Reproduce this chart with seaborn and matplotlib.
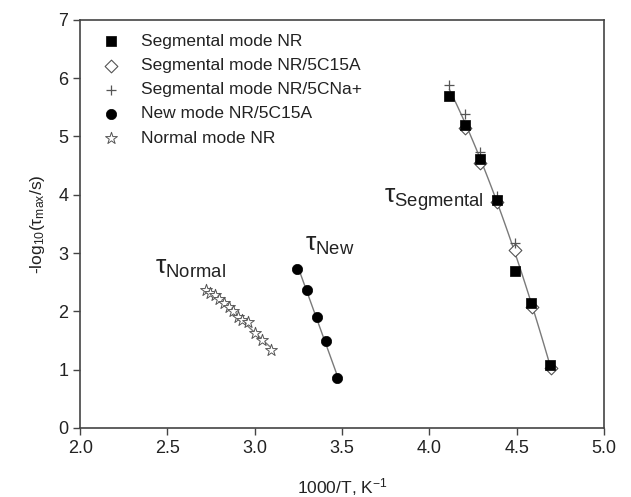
import numpy as np
import pandas as pd
import matplotlib
matplotlib.use("Agg")
import matplotlib.pyplot as plt
import seaborn as sns

# ---- data ----
seg_nr_x = [4.115, 4.205, 4.29, 4.385, 4.49, 4.585, 4.69]
seg_nr_y = [5.70, 5.20, 4.62, 3.91, 2.70, 2.15, 1.08]

seg_c15a_x = [4.205, 4.29, 4.385, 4.49, 4.59, 4.70]
seg_c15a_y = [5.15, 4.55, 3.88, 3.05, 2.08, 1.02]

seg_cna_x = [4.115, 4.205, 4.29, 4.385, 4.49]
seg_cna_y = [5.88, 5.38, 4.73, 3.98, 3.17]

new_x = [3.245, 3.30, 3.355, 3.41, 3.47]
new_y = [2.73, 2.36, 1.90, 1.49, 0.85]

normal_x = [2.72, 2.745, 2.77, 2.795, 2.825, 2.85, 2.875, 2.905, 2.93, 2.96, 3.00, 3.04, 3.095]
normal_y = [2.37, 2.32, 2.28, 2.22, 2.14, 2.08, 2.00, 1.90, 1.85, 1.82, 1.62, 1.50, 1.33]

labels = ["Segmental mode NR", "Segmental mode NR/5C15A", "Segmental mode NR/5CNa+",
          "New mode NR/5C15A", "Normal mode NR"]
x_ticks = [2.0, 2.5, 3.0, 3.5, 4.0, 4.5, 5.0]
y_ticks = [0, 1, 2, 3, 4, 5, 6, 7]

sns.set_theme(style="ticks")
plt.rcParams["font.family"] = ["Liberation Sans", "DejaVu Sans"]
plt.rcParams["mathtext.fontset"] = "custom"
plt.rcParams["mathtext.rm"] = "Liberation Sans"
plt.rcParams["mathtext.it"] = "Liberation Sans:italic"
plt.rcParams["mathtext.sf"] = "Liberation Sans"

fig = plt.figure(figsize=(6.31, 4.97), dpi=100)
ax = fig.add_axes([0.127, 0.139, 0.830, 0.821])

line_col = "#7a7a7a"

# fit lines derived from data
seg_all_x = np.array(seg_nr_x + seg_c15a_x + seg_cna_x)
seg_all_y = np.array(seg_nr_y + seg_c15a_y + seg_cna_y)
p = np.polyfit(seg_all_x, seg_all_y, 2)
xs = np.linspace(min(seg_nr_x), max(seg_c15a_x), 50)
sns.lineplot(x=xs, y=np.polyval(p, xs), ax=ax, color=line_col, lw=1.0, legend=False)

p = np.polyfit(new_x, new_y, 1)
xs = np.linspace(min(new_x), max(new_x), 10)
sns.lineplot(x=xs, y=np.polyval(p, xs), ax=ax, color=line_col, lw=1.0, legend=False)

p = np.polyfit(normal_x, normal_y, 1)
xs = np.linspace(min(normal_x), max(normal_x), 10)
sns.lineplot(x=xs, y=np.polyval(p, xs), ax=ax, color=line_col, lw=1.0, legend=False)

sns.scatterplot(x=seg_nr_x, y=seg_nr_y, ax=ax, marker="s", s=42, color="black",
                edgecolor="black", linewidth=0.5, label=labels[0], zorder=4)
sns.scatterplot(x=seg_c15a_x, y=seg_c15a_y, ax=ax, marker="D", s=42, facecolor="white",
                edgecolor="#555555", linewidth=0.8, label=labels[1], zorder=3)
sns.scatterplot(x=seg_cna_x, y=seg_cna_y, ax=ax, marker="+", s=45, color="#555555",
                linewidth=0.9, label=labels[2], zorder=3)
sns.scatterplot(x=new_x, y=new_y, ax=ax, marker="o", s=55, color="black",
                edgecolor="black", linewidth=0.5, label=labels[3], zorder=4)
sns.scatterplot(x=normal_x, y=normal_y, ax=ax, marker="*", s=80, facecolor="white",
                edgecolor="#555555", linewidth=0.7, label=labels[4], zorder=3)

ax.set_xlim(2.0, 5.0)
ax.set_ylim(0, 7)
ax.set_xticks(x_ticks)
ax.set_xticklabels([f"{t:.1f}" for t in x_ticks])
ax.set_yticks(y_ticks)

for sp in ax.spines.values():
    sp.set_color("#444444")
    sp.set_linewidth(1.2)
ax.tick_params(direction="out", length=5, width=1.0, color="#444444",
               labelsize=13, labelcolor="#222222", top=False, right=False)

ax.set_xlabel(r"1000/T, K$^{\mathregular{-1}}$", fontsize=12.5, color="#222222", labelpad=14)
ax.set_ylabel(r"-log$_{\mathregular{10}}$(τ$_{\mathregular{max}}$/s)", fontsize=12.5,
              color="#222222", labelpad=8)

leg = ax.legend(loc="upper left", frameon=False, fontsize=12.5, handletextpad=0.7,
                labelspacing=0.52, borderaxespad=0.4, bbox_to_anchor=(0.0, 1.0))
for t in leg.get_texts():
    t.set_color("#222222")

ax.text(3.74, 3.86, r"τ$_{\mathregular{Segmental}}$", fontsize=19, color="#222222")
ax.text(2.43, 2.65, r"τ$_{\mathregular{Normal}}$", fontsize=19, color="#222222")
ax.text(3.29, 3.03, r"τ$_{\mathregular{New}}$", fontsize=19, color="#222222")

fig.savefig("out.png", dpi=100)
